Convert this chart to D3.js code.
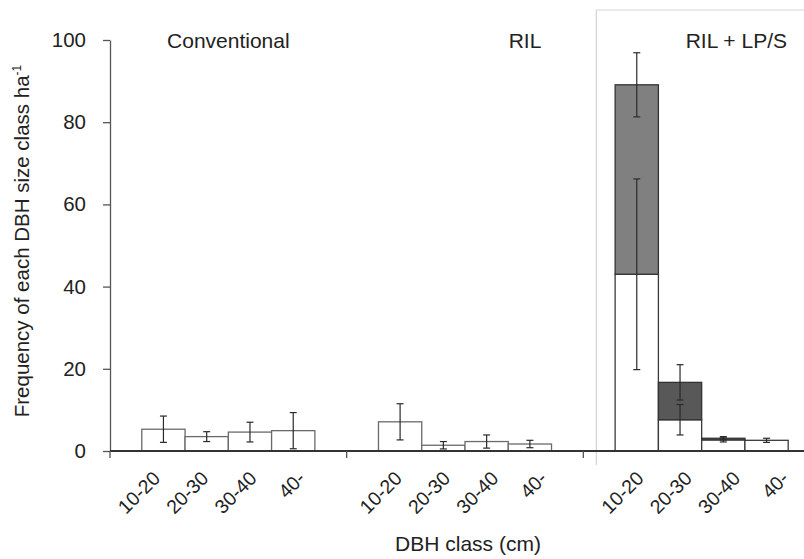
<!DOCTYPE html>
<html>
<head>
<meta charset="utf-8">
<script src="https://cdn.jsdelivr.net/npm/d3@7"></script>
<style>
  body { margin: 0; background: #fff; }
  svg { display: block; font-family: "Liberation Sans", Arial, sans-serif; }
</style>
</head>
<body>
<svg width="804" height="559"></svg>
<script>
// Data
const groups = ["Conventional", "RIL", "RIL + LP/S"];
const classes = ["10-20", "20-30", "30-40", "40-"];
const yTicks = [0, 20, 40, 60, 80, 100];

// lower (white) part of each bar and its error
const lowerValues = [[5.3, 3.5, 4.6, 4.95], [7.1, 1.4, 2.3, 1.7], [43.0, 7.6, 2.7, 2.6]];
const lowerErrors = [[3.2, 1.2, 2.4, 4.4], [4.4, 0.9, 1.6, 0.9], [23.2, 3.7, 0.5, 0.5]];
// upper (grey) part stacked on top, and error on the total
const upperValues = [[0, 0, 0, 0], [0, 0, 0, 0], [46.1, 9.1, 0.4, 0]];
const upperErrors = [[0, 0, 0, 0], [0, 0, 0, 0], [7.8, 4.3, 0.4, 0]];

const svg = d3.select("svg");

// Scales
const y = d3.scaleLinear().domain([0, 100]).range([451, 40]);
const x0 = d3.scaleBand().domain(groups).range([110, 820]).padding(0);
const x1 = d3.scaleBand().domain(classes)
  .range([0, x0.bandwidth()])
  .paddingInner(0)
  .paddingOuter(0.735);

// category labels sit on a slightly wider grid than the bars (as in the original)
const lx0 = d3.scaleBand().domain(groups).range([157.7, 157.7 + 3 * 241.75]);
const lx1 = d3.scalePoint().domain(classes).range([0, 145]);

// Highlight frame round the third panel (left and top edges only)
const frameX = x0("RIL + LP/S") + 13;
svg.append("path")
  .attr("d", `M${frameX},465V10H810`)
  .attr("fill", "none")
  .attr("stroke", "#d4d4d4")
  .attr("stroke-width", 1.2);

// Flatten into bar records
const bars = [];
groups.forEach((g, gi) => {
  classes.forEach((c, ci) => {
    bars.push({
      group: g, cls: c, ci,
      lower: lowerValues[gi][ci], lowerErr: lowerErrors[gi][ci],
      upper: upperValues[gi][ci], upperErr: upperErrors[gi][ci]
    });
  });
});

const barX = d => x0(d.group) + x1(d.cls);
const bw = x1.bandwidth();

// White (lower) segments
svg.selectAll(".lower")
  .data(bars)
  .enter()
  .append("rect")
  .attr("class", "lower")
  .attr("x", barX)
  .attr("width", bw)
  .attr("y", d => y(d.lower))
  .attr("height", d => y(0) - y(d.lower))
  .attr("fill", "#fff")
  .attr("stroke", d => d.group === "RIL + LP/S" ? "#3a3a3a" : "#6a6a6a")
  .attr("stroke-width", 1.3);

// Grey (upper) segments
svg.selectAll(".upper")
  .data(bars.filter(d => d.upper > 0))
  .enter()
  .append("rect")
  .attr("class", "upper")
  .attr("x", barX)
  .attr("width", bw)
  .attr("y", d => y(d.lower + d.upper))
  .attr("height", d => y(d.lower) - y(d.lower + d.upper))
  .attr("fill", d => d.ci === 0 ? "#808080" : "#585858")
  .attr("stroke", "#333")
  .attr("stroke-width", 1.3);

// Error bars
const errs = [];
bars.forEach(d => {
  errs.push({ d, v: d.lower, e: d.lowerErr });
  if (d.upper > 0) errs.push({ d, v: d.lower + d.upper, e: d.upperErr });
});

const cap = 3.5;
const eg = svg.selectAll(".err")
  .data(errs)
  .enter()
  .append("g")
  .attr("class", "err")
  .attr("stroke", "#2a2a2a")
  .attr("stroke-width", 1.2);

eg.append("line")
  .attr("x1", e => barX(e.d) + bw / 2)
  .attr("x2", e => barX(e.d) + bw / 2)
  .attr("y1", e => y(e.v + e.e))
  .attr("y2", e => y(Math.max(0, e.v - e.e)));
eg.append("line")
  .attr("x1", e => barX(e.d) + bw / 2 - cap)
  .attr("x2", e => barX(e.d) + bw / 2 + cap)
  .attr("y1", e => y(e.v + e.e))
  .attr("y2", e => y(e.v + e.e));
eg.append("line")
  .attr("x1", e => barX(e.d) + bw / 2 - cap)
  .attr("x2", e => barX(e.d) + bw / 2 + cap)
  .attr("y1", e => y(Math.max(0, e.v - e.e)))
  .attr("y2", e => y(Math.max(0, e.v - e.e)));

// Y axis
const yAxis = svg.append("g")
  .attr("transform", "translate(110,0)")
  .call(d3.axisLeft(y).tickValues(yTicks).tickSize(7).tickSizeOuter(0).tickPadding(17));
yAxis.select(".domain").attr("stroke", "#555").attr("stroke-width", 1.3);
yAxis.selectAll(".tick line").attr("stroke", "#555").attr("stroke-width", 1.3);
yAxis.selectAll(".tick text")
  .attr("fill", "#222")
  .style("font-size", "20.5px")
  .style("font-family", "'Liberation Sans', Arial, sans-serif");

// X axis line and group separator ticks
svg.append("line")
  .attr("x1", 110).attr("x2", 820)
  .attr("y1", y(0)).attr("y2", y(0))
  .attr("stroke", "#333")
  .attr("stroke-width", 1.8);

svg.selectAll(".sep")
  .data(groups)
  .enter()
  .append("line")
  .attr("class", "sep")
  .attr("x1", g => x0(g)).attr("x2", g => x0(g))
  .attr("y1", y(0)).attr("y2", y(0) + 7)
  .attr("stroke", "#555")
  .attr("stroke-width", 1.3);

// Rotated class labels
svg.selectAll(".xlab")
  .data(bars)
  .enter()
  .append("text")
  .attr("class", "xlab")
  .attr("transform", d => `translate(${lx0(d.group) + lx1(d.cls)},${y(0) + 25}) rotate(-45)`)
  .attr("text-anchor", "end")
  .attr("dominant-baseline", "middle")
  .attr("fill", "#222")
  .style("font-size", "19.5px")
  .text(d => d.cls);

// Panel titles
const titleLayout = {
  "Conventional": { anchor: "middle", x: g => x0(g) + x0.bandwidth() / 2 },
  "RIL": { anchor: "end", x: g => x0(g) + x0.bandwidth() - 42 },
  "RIL + LP/S": { anchor: "end", x: g => x0(g) + x0.bandwidth() - 33 }
};
svg.selectAll(".gtitle")
  .data(groups)
  .enter()
  .append("text")
  .attr("class", "gtitle")
  .attr("x", g => titleLayout[g].x(g))
  .attr("y", 48)
  .attr("text-anchor", g => titleLayout[g].anchor)
  .attr("fill", "#222")
  .style("font-size", "21px")
  .text(g => g);

// Axis titles
svg.append("text")
  .attr("x", 468)
  .attr("y", 551)
  .attr("text-anchor", "middle")
  .attr("fill", "#222")
  .style("font-size", "21px")
  .text("DBH class (cm)");

const yTitle = svg.append("text")
  .attr("transform", "translate(29,241) rotate(-90)")
  .attr("text-anchor", "middle")
  .attr("fill", "#222")
  .style("font-size", "20.5px");
yTitle.append("tspan").text("Frequency of each DBH size class ha");
yTitle.append("tspan")
  .attr("dy", -8)
  .style("font-size", "12px")
  .text("-1");
</script>
</body>
</html>
